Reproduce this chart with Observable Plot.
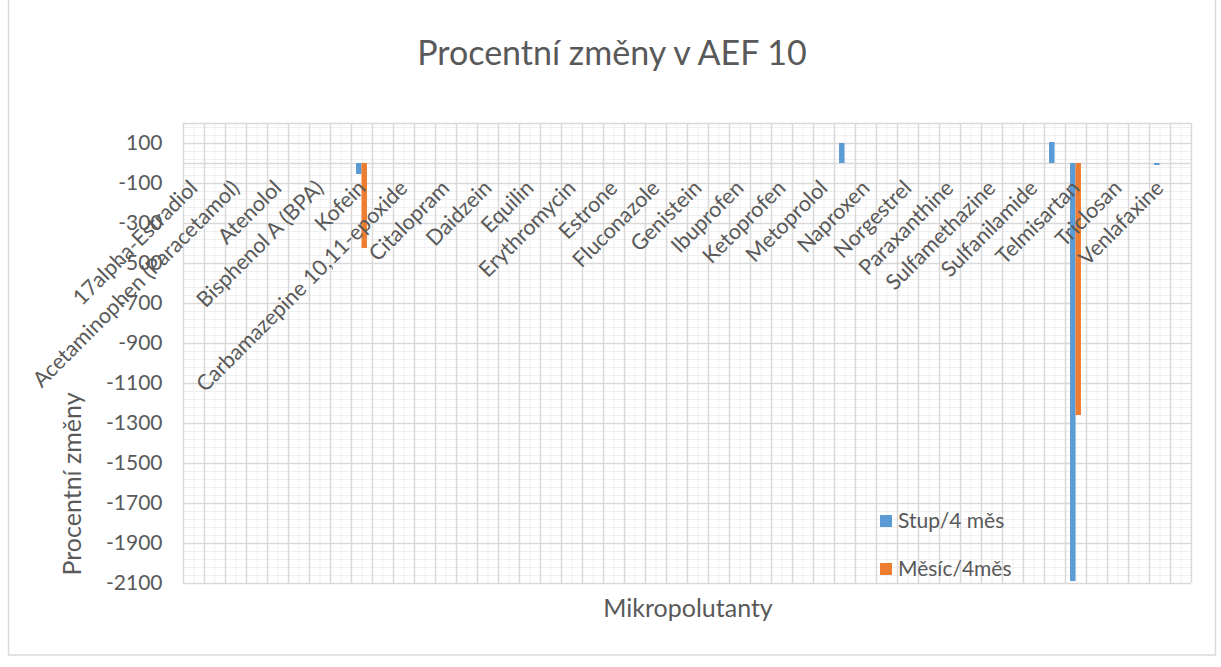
<!DOCTYPE html>
<html><head><meta charset="utf-8">
<script src="https://cdn.jsdelivr.net/npm/d3@7"></script>
<script src="https://cdn.jsdelivr.net/npm/@observablehq/plot@0.6"></script>
<style>body{margin:0;background:#fff}</style>
</head><body><div id="chart"></div>
<script>
// 48 categories on the axis; the source shows a label on every other one
const tickLabels = ["17alpha-Estradiol","Acetaminophen (Paracetamol)","Atenolol","Bisphenol A (BPA)","Kofein",
  "Carbamazepine 10,11-epoxide","Citalopram","Daidzein","Equilin","Erythromycin","Estrone","Fluconazole",
  "Genistein","Ibuprofen","Ketoprofen","Metoprolol","Naproxen","Norgestrel","Paraxanthine","Sulfamethazine",
  "Sulfanilamide","Telmisartan","Triclosan","Venlafaxine"];
const categoryCount = 48;
const seriesNames = ["Stup/4 měs", "Měsíc/4měs"];
const seriesColors = ["#5B9BD5", "#ED7D31"];
const stup = [
  0,0,0,0,0,0,0,0,
  -55,0,0,0,0,0,0,0,
  0,0,0,0,0,0,0,0,
  0,0,0,0,0,0,0,100,
  0,0,0,0,0,0,0,0,
  0,105,-2090,0,0,0,-10,0];
const mesic = [
  0,0,0,0,0,0,0,0,
  -425,0,0,0,0,0,0,0,
  0,0,0,0,0,0,0,0,
  0,0,0,0,0,0,0,0,
  0,0,0,0,0,0,0,0,
  0,0,-1260,0,0,0,0,0];
const yTicks = [-2100,-1900,-1700,-1500,-1300,-1100,-900,-700,-500,-300,-100,100];
const yMax = 200;

const idx = d3.range(categoryCount);
const bars = [
  ...idx.map(i => ({i, v: stup[i], s: 0})),
  ...idx.map(i => ({i, v: mesic[i], s: 1}))
];
const labelData = tickLabels.map((t, k) => ({i: 2 * k, t}));
const yMinor = d3.range(-2100, yMax + 1, 40);
const xMajor = d3.range(categoryCount + 1).map(k => k - 0.5);
const xMinor = idx;
const halfBar = 0.26;

const plot = Plot.plot({
  width: 1221, height: 667,
  marginLeft: 183, marginRight: 30, marginTop: 123, marginBottom: 84,
  style: {fontFamily: "Lato, sans-serif", color: "#595959", background: "#fff"},
  x: {type: "linear", domain: [-0.5, categoryCount - 0.5], axis: null},
  y: {domain: [-2100, yMax], axis: null},
  marks: [
    Plot.ruleY(yMinor, {stroke: "#efefef", strokeWidth: 1}),
    Plot.ruleX(xMinor, {stroke: "#efefef", strokeWidth: 1}),
    Plot.ruleY([...yTicks, yMax], {stroke: "#d9d9d9", strokeWidth: 1.5}),
    Plot.ruleX(xMajor, {stroke: "#d9d9d9", strokeWidth: 1.5}),
    Plot.ruleY([0], {stroke: "#d9d9d9", strokeWidth: 1.5}),
    Plot.rectY(bars, {
      x1: d => d.s === 0 ? d.i - halfBar : d.i,
      x2: d => d.s === 0 ? d.i : d.i + halfBar,
      y1: 0, y2: "v",
      fill: d => seriesColors[d.s]
    }),
    Plot.text(labelData, {
      x: "i", y: 0, text: "t", rotate: -45, textAnchor: "end",
      dx: 0, dy: 21, fontSize: 21.5, fill: "#595959"
    }),
    Plot.axisY(yTicks, {tickSize: 0, tickPadding: 21, fontSize: 21, fill: "#595959", label: null,
      tickFormat: d => String(d)})
  ]
});

document.getElementById("chart").appendChild(plot);
const svg = d3.select(plot);
svg.insert("rect", ":first-child").attr("x", 8.5).attr("y", -2).attr("width", 1207).attr("height", 657)
  .attr("fill", "none").attr("stroke", "#d9d9d9").attr("stroke-width", 1.5);
const g = svg.append("g").attr("font-family", "Lato, sans-serif").attr("fill", "#595959");
g.append("text").attr("x", 612).attr("y", 65).attr("text-anchor", "middle").attr("font-size", 34)
  .text("Procentní změny v AEF 10");
g.append("text").attr("transform", "translate(81,484) rotate(-90)").attr("text-anchor", "middle")
  .attr("font-size", 25).text("Procentní změny");
g.append("text").attr("x", 688).attr("y", 617).attr("text-anchor", "middle").attr("font-size", 25)
  .text("Mikropolutanty");
const leg = g.selectAll("g.leg").data(seriesNames).join("g")
  .attr("transform", (d, k) => `translate(880,${515 + k * 48})`);
leg.append("rect").attr("width", 12).attr("height", 12).attr("fill", (d, k) => seriesColors[k]);
leg.append("text").attr("x", 18).attr("y", 13).attr("font-size", 21).attr("text-anchor", "start").text(d => d);
</script>
</body></html>
